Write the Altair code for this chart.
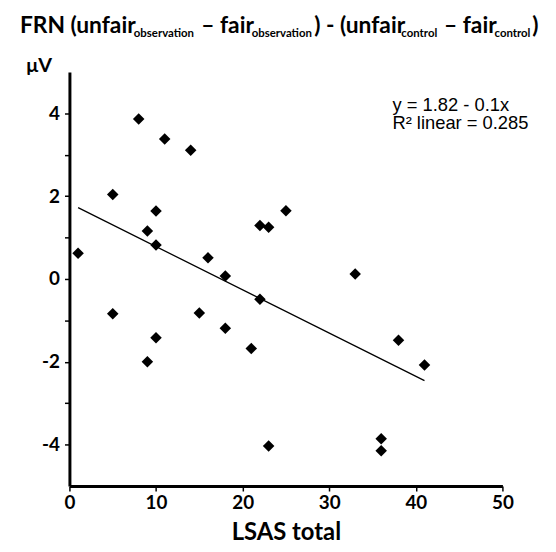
import altair as alt
import pandas as pd

# LSAS total scores and FRN difference values (µV)
lsas = [1, 5, 5, 8, 9, 9, 10, 10, 10, 11, 14, 15, 16, 18, 18, 21, 22, 22, 23, 23, 25, 33, 36, 36, 38, 41]
frn = [0.62, 2.04, -0.84, 3.86, 1.16, -2.0, 1.64, 0.82, -1.42, 3.38, 3.11, -0.82, 0.51, 0.07, -1.19,
       -1.68, -0.49, 1.29, 1.25, -4.03, 1.65, 0.12, -3.86, -4.15, -1.48, -2.08]

x_ticks = [0, 10, 20, 30, 40, 50]
y_ticks = [-4, -3, -2, -1, 0, 1, 2, 3, 4]

title_parts = ["FRN (unfair", "observation", "\u2013 fair", "observation", ") - (unfair",
               "control", "\u2013 fair", "control", ")"]
equation_lines = ["y = 1.82 - 0.1x", "R\u00b2 linear = 0.285"]

df = pd.DataFrame({"lsas": lsas, "frn": frn})

FONT = "Lato"

base = alt.Chart(df)

points = base.mark_point(
    shape="M0,-1L1,0L0,1L-1,0Z", filled=True, color="black", opacity=1, size=135
).encode(
    x=alt.X("lsas:Q",
            scale=alt.Scale(domain=[0, 50], nice=False),
            axis=alt.Axis(values=x_ticks, title="LSAS total", grid=False,
                          domainColor="black", domainWidth=3,
                          tickColor="black", tickSize=5, tickWidth=1.5,
                          labelFont=FONT, labelFontWeight="bold", labelFontSize=19,
                          labelColor="black", labelPadding=3, labelFlush=False,
                          titleFont=FONT, titleFontWeight="bold", titleFontSize=24,
                          titleColor="black", titleY=54, titleBaseline="alphabetic")),
    y=alt.Y("frn:Q",
            scale=alt.Scale(domain=[-5, 5], nice=False),
            axis=alt.Axis(values=y_ticks, title="\u03bcV", grid=False,
                          labelExpr="datum.value % 2 == 0 ? '' + datum.value : ''",
                          domainColor="black", domainWidth=3,
                          tickColor="black", tickSize=5, tickWidth=1.5,
                          labelFont=FONT, labelFontWeight="bold", labelFontSize=19,
                          labelColor="black", labelPadding=5,
                          titleFont=FONT, titleFontWeight="bold", titleFontSize=20,
                          titleColor="black", titleAngle=0, titleAlign="left",
                          titleBaseline="alphabetic", titleX=-44, titleY=0)),
)

fit = base.transform_regression("lsas", "frn").mark_line(
    color="black", strokeWidth=1.3
).encode(x="lsas:Q", y="frn:Q")

MAIN, SUB = 23, 11.5
# Title pieces: (text, x, y, size) in plot-area pixels
title_layout = [
    (title_parts[0], -50, -39, MAIN),
    (title_parts[1], 65, -35, SUB),
    (title_parts[2], 133, -39, MAIN),
    (title_parts[3], 184, -35, SUB),
    (title_parts[4], 247, -39, MAIN),
    (title_parts[5], 335, -35, SUB),
    (title_parts[6], 378, -39, MAIN),
    (title_parts[7], 429, -35, SUB),
    (title_parts[8], 467, -39, MAIN),
]

layers = [points, fit]
for txt, tx, ty, fs in title_layout:
    layers.append(
        alt.Chart(df).mark_text(
            text=txt, font=FONT, fontWeight="bold", fontSize=fs, color="black",
            align="left", baseline="alphabetic"
        ).encode(x=alt.value(tx), y=alt.value(ty)).transform_filter("datum.lsas == 1")
    )

for i, ty in enumerate([39, 58]):
    layers.append(
        alt.Chart(df).mark_text(
            text=equation_lines[i], font="Liberation Sans", fontSize=18.5, color="black",
            align="left", baseline="alphabetic"
        ).encode(x=alt.value(326), y=alt.value(ty)).transform_filter("datum.lsas == 1")
    )

chart = alt.layer(*layers).properties(
    width=437, height=418,
    autosize=alt.AutoSizeParams(type="none"),
    padding={"left": 62, "top": 62, "right": 46, "bottom": 56},
    background="white",
).configure_view(stroke=None)

chart.save("out.html", embed_options={"renderer": "svg", "actions": False})
